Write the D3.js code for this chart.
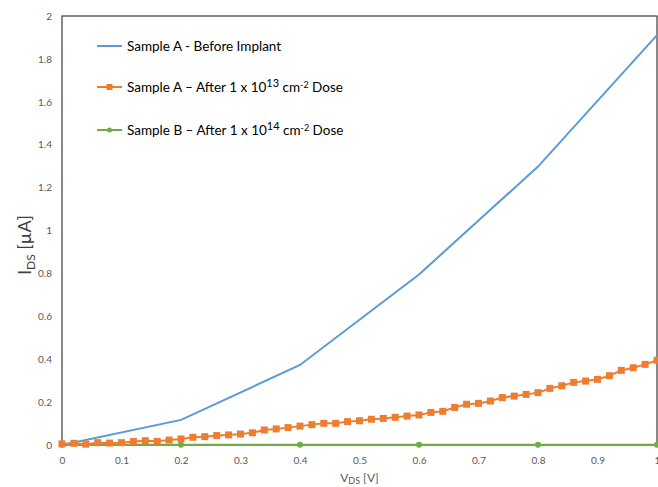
<!DOCTYPE html>
<html>
<head>
<meta charset="utf-8">
<script src="https://cdn.jsdelivr.net/npm/d3@7"></script>
<style>
  html, body { margin: 0; padding: 0; background: #fff; }
  svg text { font-family: Lato, "Open Sans", sans-serif; }
</style>
</head>
<body>
<div id="chart"></div>
<script>
// Data
const xTicks = [0, 0.1, 0.2, 0.3, 0.4, 0.5, 0.6, 0.7, 0.8, 0.9, 1];
const yTicks = [0, 0.2, 0.4, 0.6, 0.8, 1, 1.2, 1.4, 1.6, 1.8, 2];

const beforeV = [0, 0.2, 0.4, 0.6, 0.8, 1.0];
const beforeI = [0, 0.117, 0.373, 0.795, 1.298, 1.911];

const doseAV = [0, 0.02, 0.04, 0.06, 0.08, 0.10, 0.12, 0.14, 0.16, 0.18,
  0.20, 0.22, 0.24, 0.26, 0.28, 0.30, 0.32, 0.34, 0.36, 0.38,
  0.40, 0.42, 0.44, 0.46, 0.48, 0.50, 0.52, 0.54, 0.56, 0.58,
  0.60, 0.62, 0.64, 0.66, 0.68, 0.70, 0.72, 0.74, 0.76, 0.78,
  0.80, 0.82, 0.84, 0.86, 0.88, 0.90, 0.92, 0.94, 0.96, 0.98, 1.0];
const doseAI = [0.005, 0.008, 0.004, 0.011, 0.009, 0.011, 0.016, 0.020, 0.017, 0.023,
  0.028, 0.036, 0.039, 0.044, 0.047, 0.051, 0.057, 0.070, 0.075, 0.081,
  0.088, 0.095, 0.101, 0.101, 0.109, 0.113, 0.120, 0.124, 0.129, 0.135,
  0.140, 0.152, 0.157, 0.175, 0.190, 0.194, 0.205, 0.221, 0.228, 0.236,
  0.244, 0.264, 0.276, 0.292, 0.298, 0.306, 0.323, 0.348, 0.360, 0.376, 0.395];

const doseBV = [0, 0.2, 0.4, 0.6, 0.8, 1.0];
const doseBI = [0.001, 0.001, 0.001, 0.001, 0.001, 0.001];

const COLORS = { blue: '#5b9bd5', orange: '#ed7d31', green: '#70ad47' };

const W = 658, H = 487;
const margin = { top: 16, right: 1, bottom: 42, left: 62 };
const width = W - margin.left - margin.right;
const height = H - margin.top - margin.bottom;

const svg = d3.select('#chart').append('svg')
  .attr('width', W)
  .attr('height', H);

const g = svg.append('g')
  .attr('transform', `translate(${margin.left},${margin.top})`);

const x = d3.scaleLinear().domain([0, 1]).range([0, width]);
const y = d3.scaleLinear().domain([0, 2]).range([height, 0]);

// Frame
g.append('rect')
  .attr('x', 0).attr('y', 0)
  .attr('width', width).attr('height', height)
  .attr('fill', 'none')
  .attr('stroke', '#3a3a3a')
  .attr('stroke-width', 1.2);

// Axes (labels only)
const xAxis = g.append('g')
  .attr('transform', `translate(0,${height})`)
  .call(d3.axisBottom(x).tickValues(xTicks).tickSize(0).tickPadding(12).tickFormat(d3.format('')));
xAxis.select('.domain').remove();
xAxis.selectAll('text').attr('fill', '#595959').attr('font-size', '10px');

const yAxis = g.append('g')
  .call(d3.axisLeft(y).tickValues(yTicks).tickSize(0).tickPadding(10).tickFormat(d3.format('')));
yAxis.select('.domain').remove();
yAxis.selectAll('text').attr('fill', '#595959').attr('font-size', '10px');

// Series
const line = d3.line().x(d => x(d[0])).y(d => y(d[1]));
const before = beforeV.map((v, i) => [v, beforeI[i]]);
const doseA = doseAV.map((v, i) => [v, doseAI[i]]);
const doseB = doseBV.map((v, i) => [v, doseBI[i]]);

g.append('path').datum(doseB)
  .attr('fill', 'none').attr('stroke', COLORS.green).attr('stroke-width', 2.2)
  .attr('d', line);
g.selectAll('.dot-b').data(doseB).join('circle')
  .attr('cx', d => x(d[0])).attr('cy', d => y(d[1]))
  .attr('r', 3).attr('fill', COLORS.green);

g.append('path').datum(before)
  .attr('fill', 'none').attr('stroke', COLORS.blue).attr('stroke-width', 2)
  .attr('d', line);

g.append('path').datum(doseA)
  .attr('fill', 'none').attr('stroke', COLORS.orange).attr('stroke-width', 2)
  .attr('d', line);
g.selectAll('.sq-a').data(doseA).join('rect')
  .attr('x', d => x(d[0]) - 3.5).attr('y', d => y(d[1]) - 3.5)
  .attr('width', 7).attr('height', 7)
  .attr('fill', COLORS.orange);

// Axis titles
const yTitle = svg.append('text')
  .attr('transform', `translate(31,245) rotate(-90)`)
  .attr('text-anchor', 'middle')
  .attr('fill', '#404040')
  .attr('font-size', '18px');
yTitle.append('tspan').text('I');
yTitle.append('tspan').attr('font-size', '12px').attr('dy', 4).text('DS');
yTitle.append('tspan').attr('dy', -4).text('  [\u00b5A]');

const xTitle = svg.append('text')
  .attr('x', margin.left + x(0.5))
  .attr('y', 482)
  .attr('text-anchor', 'middle')
  .attr('fill', '#595959')
  .attr('font-size', '12px');
xTitle.append('tspan').text('V');
xTitle.append('tspan').attr('font-size', '9px').attr('dy', 2).text('DS');
xTitle.append('tspan').attr('dy', -2).text(' [V]');

// Legend
const legend = svg.append('g').attr('transform', 'translate(97,0)');
const legendRows = [
  { color: COLORS.blue, y: 46, marker: null, parts: [['Sample A - Before Implant', 0]] },
  { color: COLORS.orange, y: 87, marker: 'square',
    parts: [['Sample A \u2013 After 1 x 10', 0], ['13', -5], [' cm', 5], ['-2', -4], [' Dose', 4]] },
  { color: COLORS.green, y: 130, marker: 'circle',
    parts: [['Sample B \u2013 After 1 x 10', 0], ['14', -5], [' cm', 5], ['-2', -4], [' Dose', 4]] }
];
legendRows.forEach(row => {
  legend.append('line')
    .attr('x1', 0).attr('x2', 25)
    .attr('y1', row.y).attr('y2', row.y)
    .attr('stroke', row.color).attr('stroke-width', 2);
  if (row.marker === 'square') {
    legend.append('rect').attr('x', 9.5).attr('y', row.y - 3).attr('width', 6).attr('height', 6).attr('fill', row.color);
  } else if (row.marker === 'circle') {
    legend.append('circle').attr('cx', 12.5).attr('cy', row.y).attr('r', 2.5).attr('fill', row.color);
  }
  const t = legend.append('text')
    .attr('x', 30).attr('y', row.y + 5)
    .attr('fill', '#000')
    .attr('font-size', '13.5px');
  row.parts.forEach(([s, dy]) => {
    const small = s === '13' || s === '14' || s === '-2';
    t.append('tspan').attr('dy', dy).attr('font-size', small ? (s === '-2' ? '9px' : '11px') : null).text(s);
  });
});
</script>
</body>
</html>
